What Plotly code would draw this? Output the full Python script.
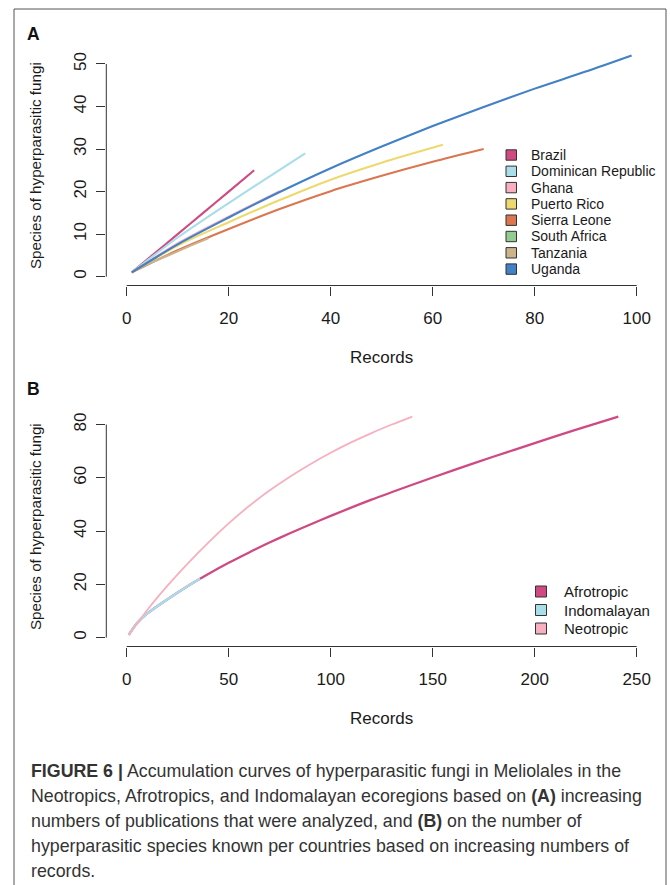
import plotly.graph_objects as go

W, H = 670, 885

# ---------------- Panel A data ----------------
countries = ["Brazil", "Dominican Republic", "Ghana", "Puerto Rico",
             "Sierra Leone", "South Africa", "Tanzania", "Uganda"]
colors_a = ["#CF4A82", "#A9DDEA", "#F6B0C0", "#EDD96E",
            "#DC7651", "#93CC91", "#CDB48B", "#4381C6"]

brazil_x = [1, 5, 10, 15, 20, 25]
brazil_y = [1, 5, 10, 15, 20, 25]
dr_x = [1, 10, 20, 30, 35]
dr_y = [1, 9.2, 17.3, 25.1, 29.0]
ghana_x = [1, 10, 20, 30]
ghana_y = [1, 7.8, 14.1, 20.1]
pr_x = [1, 10, 20, 30, 40, 50, 62]
pr_y = [1, 7.3, 12.8, 18.0, 22.8, 26.8, 31.0]
sl_x = [1, 10, 20, 30, 40, 50, 60, 70]
sl_y = [1, 6.2, 11.2, 15.9, 20.1, 23.7, 27.0, 30.0]
sa_x = [1, 3, 6]
sa_y = [1, 2.6, 4.6]
tz_x = [1, 4, 8, 12, 16]
tz_y = [1, 2.9, 4.9, 7.0, 9.0]
ug_x = [1, 10, 20, 30, 40, 50, 60, 70, 80, 90, 99]
ug_y = [1, 7.6, 13.9, 19.9, 25.5, 30.6, 35.4, 39.9, 44.2, 48.2, 52.0]

series_a = [(brazil_x, brazil_y), (dr_x, dr_y), (ghana_x, ghana_y), (pr_x, pr_y),
            (sl_x, sl_y), (sa_x, sa_y), (tz_x, tz_y), (ug_x, ug_y)]

xticks_a = [0, 20, 40, 60, 80, 100]
yticks_a = [0, 10, 20, 30, 40, 50]

# ---------------- Panel B data ----------------
regions = ["Afrotropic", "Indomalayan", "Neotropic"]
colors_b = ["#CF4A82", "#A9DDEA", "#F6B0C0"]

afro_x = [1, 5, 10, 20, 30, 40, 50, 60, 70, 80, 90, 100, 120, 140, 160, 180, 200, 220, 241]
afro_y = [1, 5.4, 9.0, 14.4, 19.4, 23.9, 28.1, 32.0, 35.7, 39.2, 42.5, 45.7,
          51.8, 57.4, 62.8, 68.0, 73.0, 78.0, 83.0]
indo_x = [1, 5, 10, 20, 30, 36]
indo_y = [1, 5.4, 9.0, 14.4, 19.4, 22.1]
neo_x = [1, 10, 20, 30, 40, 50, 60, 70, 80, 90, 100, 110, 120, 130, 140]
neo_y = [1, 10.3, 19.5, 27.9, 35.7, 42.9, 49.4, 55.2, 60.4, 65.1, 69.4,
         73.3, 76.8, 80.0, 83.0]

series_b = [(afro_x, afro_y), (indo_x, indo_y), (neo_x, neo_y)]

xticks_b = [0, 50, 100, 150, 200, 250]
yticks_b = [0, 20, 40, 60, 80]

caption_lines = [
    "<b>FIGURE 6 |</b> Accumulation curves of hyperparasitic fungi in Meliolales in the",
    "Neotropics, Afrotropics, and Indomalayan ecoregions based on <b>(A)</b> increasing",
    "numbers of publications that were analyzed, and <b>(B)</b> on the number of",
    "hyperparasitic species known per countries based on increasing numbers of",
    "records.",
]

FONT = "Liberation Sans, Arial, Helvetica, sans-serif"
AX = "#333333"
TXT = "#1a1a1a"


def px_x(v):
    return v / W


def px_y(v):
    return 1 - v / H


fig = go.Figure()

# plot regions (pixels)
LEFT, RIGHT = 106.3, 657.1
A_TOP, A_BOT = 46.6, 285.5
B_TOP, B_BOT = 407.7, 646.5

for (xs, ys), name, col in zip(series_a, countries, colors_a):
    fig.add_trace(go.Scatter(x=xs, y=ys, mode="lines", name=name,
                             line=dict(color=col, width=2.1, shape="spline", smoothing=0.8),
                             xaxis="x", yaxis="y", showlegend=False, hoverinfo="skip"))

for (xs, ys), name, col in zip(series_b, regions, colors_b):
    w = 1.8 if name == "Neotropic" else 2.3
    fig.add_trace(go.Scatter(x=xs, y=ys, mode="lines", name=name,
                             line=dict(color=col, width=w, shape="spline", smoothing=0.8),
                             xaxis="x2", yaxis="y2", showlegend=False, hoverinfo="skip"))

axis_common = dict(showgrid=False, zeroline=False, showline=False, ticks="outside",
                   ticklen=9, tickwidth=1, tickcolor=AX,
                   tickfont=dict(family=FONT, size=17, color=TXT))

fig.update_layout(
    width=W, height=H, margin=dict(l=0, r=0, t=0, b=0),
    paper_bgcolor="white", plot_bgcolor="white",
    xaxis=dict(domain=[px_x(LEFT), px_x(RIGHT)], range=[-4, 104], anchor="y",
               tickvals=xticks_a, ticklabelstandoff=8, **axis_common),
    yaxis=dict(domain=[px_y(A_BOT), px_y(A_TOP)], range=[-2.08, 54.08], anchor="x",
               tickvals=yticks_a, tickangle=-90, ticklabelstandoff=4, **axis_common),
    xaxis2=dict(domain=[px_x(LEFT), px_x(RIGHT)], range=[-10, 260], anchor="y2",
                tickvals=xticks_b, ticklabelstandoff=8, **axis_common),
    yaxis2=dict(domain=[px_y(B_BOT), px_y(B_TOP)], range=[-3.32, 86.32], anchor="x2",
                tickvals=yticks_b, tickangle=-90, ticklabelstandoff=4, **axis_common),
)

shapes = []
# detached R-style axis lines (first to last tick)
for xr, yr, xt, yt in [("x", "y", xticks_a, yticks_a), ("x2", "y2", xticks_b, yticks_b)]:
    shapes.append(dict(type="line", xref=xr, yref=yr + " domain", x0=xt[0], x1=xt[-1],
                       y0=0, y1=0, line=dict(color=AX, width=1)))
    shapes.append(dict(type="line", xref=xr + " domain", yref=yr, x0=0, x1=0,
                       y0=yt[0], y1=yt[-1], line=dict(color=AX, width=1)))

# outer frame
shapes.append(dict(type="rect", xref="paper", yref="paper",
                   x0=px_x(14), x1=px_x(666), y0=px_y(900), y1=px_y(9),
                   line=dict(color="#555555", width=1), fillcolor="rgba(0,0,0,0)"))

annotations = []

# legend A
leg_a_y0, leg_a_dy = 155.0, 16.3
for i, (name, col) in enumerate(zip(countries, colors_a)):
    cy = leg_a_y0 + i * leg_a_dy
    shapes.append(dict(type="rect", xref="paper", yref="paper",
                       x0=px_x(506), x1=px_x(516.5), y0=px_y(cy + 5.2), y1=px_y(cy - 5.2),
                       fillcolor=col, line=dict(color="#333333", width=1)))
    annotations.append(dict(x=px_x(528.5), y=px_y(cy), xref="paper", yref="paper",
                            text=name, showarrow=False, xanchor="left", yanchor="middle",
                            font=dict(family=FONT, size=14, color=TXT)))

# legend B
leg_b_y0, leg_b_dy = 591.5, 18.5
for i, (name, col) in enumerate(zip(regions, colors_b)):
    cy = leg_b_y0 + i * leg_b_dy
    shapes.append(dict(type="rect", xref="paper", yref="paper",
                       x0=px_x(535.5), x1=px_x(546.5), y0=px_y(cy + 5.5), y1=px_y(cy - 5.5),
                       fillcolor=col, line=dict(color="#333333", width=1)))
    annotations.append(dict(x=px_x(561.5), y=px_y(cy), xref="paper", yref="paper",
                            text=name, showarrow=False, xanchor="left", yanchor="middle",
                            font=dict(family=FONT, size=15, color=TXT)))

# panel letters
for letter, cy in [("A", 34), ("B", 389)]:
    annotations.append(dict(x=px_x(33.5), y=px_y(cy), xref="paper", yref="paper",
                            text="<b>" + letter + "</b>", showarrow=False,
                            xanchor="center", yanchor="middle",
                            font=dict(family=FONT, size=17.5, color="#111111")))

# axis titles
for top, bot in [(A_TOP, A_BOT), (B_TOP, B_BOT)]:
    annotations.append(dict(x=px_x(35), y=px_y((top + bot) / 2), xref="paper", yref="paper",
                            text="Species of hyperparasitic fungi", textangle=-90,
                            showarrow=False, xanchor="center", yanchor="middle",
                            font=dict(family=FONT, size=15.2, color=TXT)))
    annotations.append(dict(x=px_x((LEFT + RIGHT) / 2), y=px_y(bot + 72),
                            xref="paper", yref="paper", text="Records", showarrow=False,
                            xanchor="center", yanchor="middle",
                            font=dict(family=FONT, size=17, color=TXT)))

# caption
cap_y0, cap_dy = 770.5, 25.2
for i, line in enumerate(caption_lines):
    annotations.append(dict(x=px_x(28.5), y=px_y(cap_y0 + i * cap_dy), xref="paper",
                            yref="paper", text=line, showarrow=False, xanchor="left",
                            yanchor="middle",
                            font=dict(family=FONT, size=17.8, color="#333333")))

fig.update_layout(shapes=shapes, annotations=annotations)
fig.write_html("out.html",
               config={"displayModeBar": False},
               post_script="document.body.style.margin='0px';"
                           "document.body.style.overflow='hidden';")
